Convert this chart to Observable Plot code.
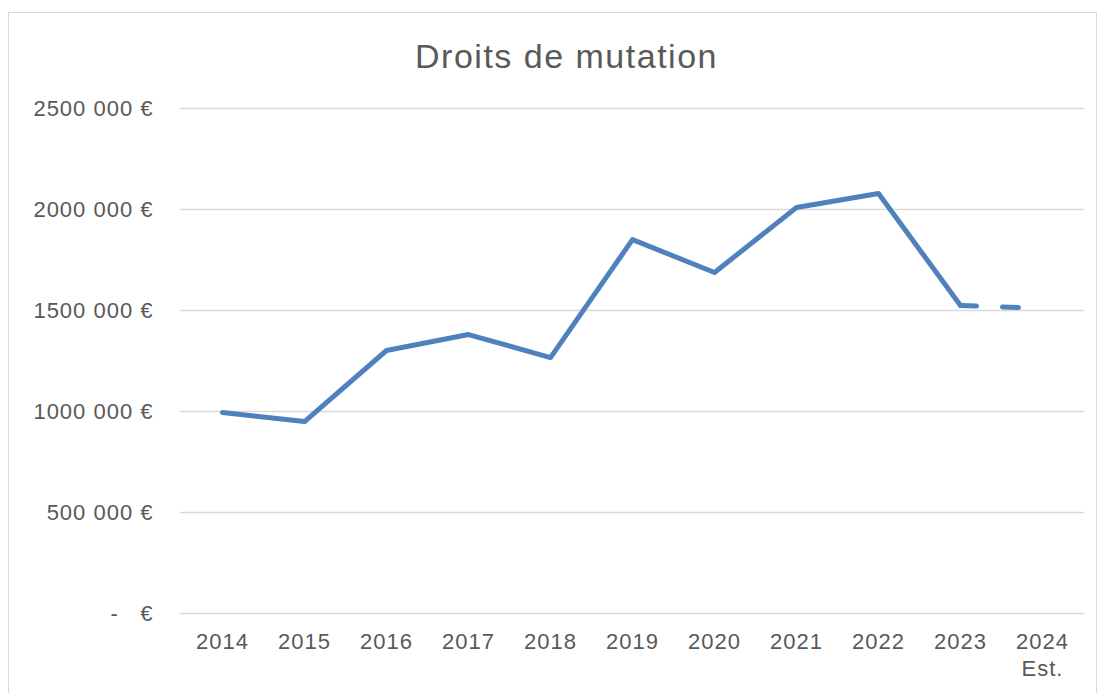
<!DOCTYPE html>
<html>
<head>
<meta charset="utf-8">
<script src="https://cdn.jsdelivr.net/npm/d3@7"></script>
<script src="https://cdn.jsdelivr.net/npm/@observablehq/plot@0.6"></script>
<style>
  html, body { margin: 0; padding: 0; background: #fff; }
  #wrap { position: relative; width: 1102px; height: 693px; overflow: hidden; font-family: Arial, "Liberation Sans", sans-serif; }
  #frame { position: absolute; left: 8px; top: 12px; width: 1089px; height: 700px; border: 1px solid #D9D9D9; box-sizing: border-box; }
  #title { position: absolute; left: 0; top: 39px; width: 1133px; text-align: center; font-size: 34px; letter-spacing: 1.5px; color: #595959; line-height: 1; }
  #chart { position: absolute; left: 0; top: 0; }
  #chart text { white-space: pre; letter-spacing: 1px; }
</style>
</head>
<body>
<div id="wrap">
  <div id="frame"></div>
  <div id="title">Droits de mutation</div>
  <div id="chart"></div>
</div>
<script>
const years = ["2014","2015","2016","2017","2018","2019","2020","2021","2022","2023","2024"];
const yearLabels = ["2014","2015","2016","2017","2018","2019","2020","2021","2022","2023","2024\nEst."];
const values = [995000, 950000, 1302000, 1381000, 1267000, 1851000, 1688000, 2010000, 2079000, 1525000, 1510000];
const estimated = [false,false,false,false,false,false,false,false,false,false,true];
const yTicks = [0, 500000, 1000000, 1500000, 2000000, 2500000];
const yTickLabels = ["-\u00a0\u00a0\u00a0€", "500 000 €", "1000 000 €", "1500 000 €", "2000 000 €", "2500 000 €"];

const data = years.map((y, i) => ({year: y, value: values[i], est: estimated[i], i}));
const lastActual = estimated.indexOf(true) - 1;
const solid = data.filter(d => d.i <= lastActual);
const dashed = data.filter(d => d.i >= lastActual);

const chart = Plot.plot({
  width: 1102,
  height: 693,
  marginLeft: 180,
  marginRight: 18,
  marginTop: 108,
  marginBottom: 80,
  style: {fontFamily: 'Arial, "Liberation Sans", sans-serif', fontSize: "22px", color: "#595959", background: "transparent"},
  x: {type: "point", domain: years, padding: 0.5, label: null},
  y: {domain: [0, 2500000], label: null},
  marks: [
    Plot.ruleY(yTicks, {stroke: "#D9D9D9", strokeWidth: 1.5}),
    Plot.axisY({ticks: yTicks, tickSize: 0, tickPadding: 27, label: null, fill: "#595959",
      tickFormat: d => yTickLabels[yTicks.indexOf(d)]}),
    Plot.axisX({tickSize: 0, tickPadding: 17, label: null, fill: "#595959", lineHeight: 1.2,
      tickFormat: d => yearLabels[years.indexOf(d)]}),
    Plot.line(solid, {x: "year", y: "value", stroke: "#4F81BD", strokeWidth: 5, strokeLinejoin: "round", strokeLinecap: "round"}),
    Plot.line(dashed, {x: "year", y: "value", stroke: "#4F81BD", strokeWidth: 5, strokeLinecap: "round", strokeDasharray: "16,26"})
  ]
});
document.getElementById("chart").appendChild(chart);
</script>
</body>
</html>
